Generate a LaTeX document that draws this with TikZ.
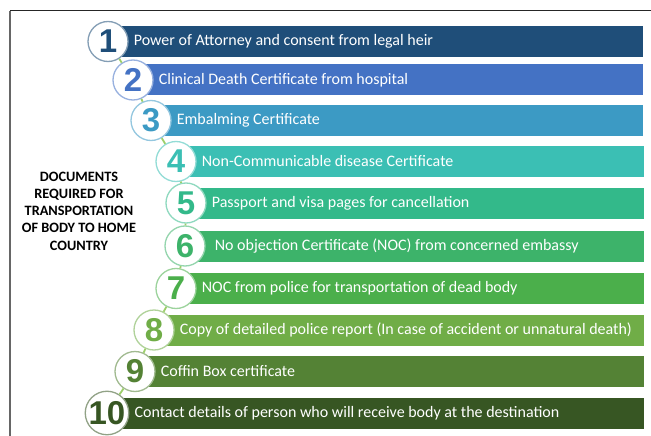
\documentclass[tikz,border=0pt]{standalone}
\usepackage{fontspec}
\setmainfont{Carlito}
\newfontfamily\numfont{Liberation Sans}
\usetikzlibrary{positioning}

\definecolor{c1}{HTML}{1F4E79}
\definecolor{c2}{HTML}{4472C4}
\definecolor{c3}{HTML}{3C9AC4}
\definecolor{c4}{HTML}{3BBFB4}
\definecolor{c5}{HTML}{33B98A}
\definecolor{c6}{HTML}{3DB36A}
\definecolor{c7}{HTML}{4BAF4B}
\definecolor{c8}{HTML}{70AD47}
\definecolor{c9}{HTML}{548235}
\definecolor{c10}{HTML}{375623}
\definecolor{linkgreen}{HTML}{9CCF6A}

\tikzset{
  node distance=5pt,
  bar/.style={fill=#1, anchor=west, minimum height=31pt, inner sep=0pt},
  num/.style={circle, fill=white, draw=#1!55!white, line width=1.3pt, text=#1,
    minimum size=40pt, inner sep=0pt, font=\numfont\bfseries\fontsize{33}{33}\selectfont},
  item/.style={text=white, inner sep=0pt, font=\fontsize{16}{18}\selectfont},
  link/.style={draw=linkgreen, line width=1.8pt},
  heading/.style={align=center, font=\bfseries\fontsize{14.3}{17.3}\selectfont}
}

\begin{document}
\begin{tikzpicture}[x=1pt, y=-1pt]
  \useasboundingbox (0,0) rectangle (651,436);

  % frame
  \draw[black!60, line width=2pt] (10,436) -- (10,11);
  \draw[black!85, line width=1pt] (10,11) -- (651,11);

  \node[heading] (title) at (79,211) {DOCUMENTS\\REQUIRED FOR\\TRANSPORTATION\\OF BODY TO HOME\\COUNTRY};

  % centres of the numbered discs
  \coordinate (p1) at (108,41.5);
  \coordinate (p2) at (133,80);
  \coordinate (p3) at (151,120.5);
  \coordinate (p4) at (176,161.5);
  \coordinate (p5) at (186,203);
  \coordinate (p6) at (185,246);
  \coordinate (p7) at (176,288.5);
  \coordinate (p8) at (154,330);
  \coordinate (p9) at (135,371.5);
  \coordinate (p10) at (107,413);

  % bars
  \node[bar=c1, minimum width=535pt] (b1) at (p1) {};
  \node[bar=c2, minimum width=510pt] (b2) at (p2) {};
  \node[bar=c3, minimum width=492pt] (b3) at (p3) {};
  \node[bar=c4, minimum width=468pt] (b4) at (p4) {};
  \node[bar=c5, minimum width=458pt] (b5) at (p5) {};
  \node[bar=c6, minimum width=459pt] (b6) at (p6) {};
  \node[bar=c7, minimum width=468pt] (b7) at (p7) {};
  \node[bar=c8, minimum width=490pt] (b8) at (p8) {};
  \node[bar=c9, minimum width=509pt] (b9) at (p9) {};
  \node[bar=c10, minimum width=537pt] (b10) at (p10) {};

  % numbered discs
  \node[num=c1] (n1) at (p1) {1};
  \node[num=c2] (n2) at (p2) {2};
  \node[num=c3] (n3) at (p3) {3};
  \node[num=c4] (n4) at (p4) {4};
  \node[num=c5] (n5) at (p5) {5};
  \node[num=c6] (n6) at (p6) {6};
  \node[num=c7] (n7) at (p7) {7};
  \node[num=c8] (n8) at (p8) {8};
  \node[num=c9] (n9) at (p9) {9};
  \node[num=c10] (n10) at (p10) {10};

  \path[link]
  (n1) -- (n2)
  (n2) -- (n3)
  (n3) -- (n4)
  (n4) -- (n5)
  (n5) -- (n6)
  (n6) -- (n7)
  (n7) -- (n8)
  (n8) -- (n9)
  (n9) -- (n10)
  ;

  % texts on the bars
  \node[item, right=of n1] (t1) {Power of Attorney and consent from legal heir};
  \node[item, right=of n2] (t2) {Clinical Death Certificate from hospital};
  \node[item, right=of n3] (t3) {Embalming Certificate};
  \node[item, right=of n4] (t4) {Non-Communicable disease Certificate};
  \node[item, right=of n5] (t5) {Passport and visa pages for cancellation};
  \node[item, right=of n6, xshift=4pt] (t6) {No objection Certificate (NOC) from concerned embassy};
  \node[item, right=of n7] (t7) {NOC from police for transportation of dead body};
  \node[item, right=of n8] (t8) {Copy of detailed police report (In case of accident or unnatural death)};
  \node[item, right=of n9] (t9) {Coffin Box certificate};
  \node[item, right=of n10] (t10) {Contact details of person who will receive body at the destination};
\end{tikzpicture}
\end{document}
